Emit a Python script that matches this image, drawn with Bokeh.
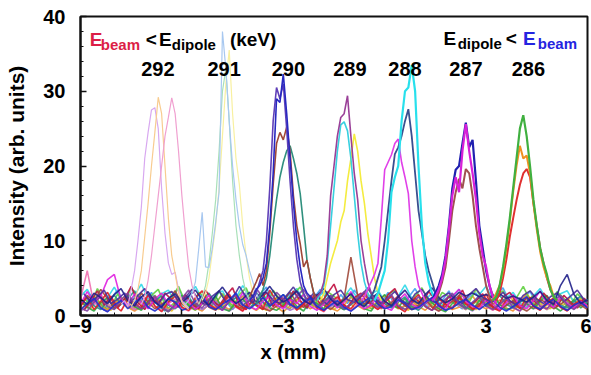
import numpy as np
from bokeh.plotting import figure
from bokeh.models import Label, FixedTicker, Range1d, Title
from bokeh.embed import file_html
from bokeh.resources import INLINE

FONT = "Liberation Sans"

# ---------------- data ----------------
X_MIN, X_MAX = -9.0, 6.0
Y_MIN, Y_MAX = 0.0, 40.0
X_TICKS = [-9, -6, -3, 0, 3, 6]
Y_TICKS = [0, 10, 20, 30, 40]

BASE_STEP = 0.2
PEAK_STEP = 0.1

# noisy background traces (sampled every 0.2 mm from their start x)
B_RED = [1.2,2.5,0.8,1.9,3.1,1.4,0.6,2.2,1.7,0.9,2.8,1.3,0.5,1.8,2.6,1.1,0.7,2.4,3.3,1.5,0.9,1.6,2.9,1.2,0.6,2.1,1.4,0.8,3.4,1.9,1.1,2.3,0.7,1.5,2.7,1.0,0.6,1.8,2.5,1.3,0.9,2.0,3.0,1.4,0.8,1.7,2.6,1.1,0.5,1.9,2.8,1.2,0.7,2.2,1.5,0.9,2.4,1.6,0.8,1.3,2.9,1.0,0.6,2.1,1.7,0.9,2.5,1.2,0.7,1.8,2.3,1.1,0.6,1.5,2.0,1.2]
B_GREEN = [2.0,1.1,0.6,1.7,2.4,0.9,1.5,2.8,1.2,0.7,1.9,2.3,1.0,0.5,1.6,2.7,1.3,0.8,2.0,1.4,2.6,0.9,0.6,1.8,2.2,1.1,1.7,2.9,1.0,0.7,1.4,2.5,1.2,0.6,2.0,1.6,0.9,2.7,1.3,0.8,1.5,2.1,0.9,0.6,1.9,2.8,1.4,1.0,2.3,0.8,1.2,2.6,1.7,0.9,0.5,1.6,2.4,1.1,0.7,2.0,1.3,2.9,1.5,0.8,1.1,2.2,1.6,0.9,1.9,2.7,1.2,0.6,1.4,2.1,1.0,1.8]
B_BLUE = [0.8,1.6,2.3,1.0,0.5,1.4,2.0,0.9,1.7,2.5,1.1,0.6,1.3,2.2,1.8,0.7,1.0,1.9,2.6,1.2,0.8,1.5,2.1,3.0,1.4,0.9,1.6,2.4,1.3,2.0,2.8,1.5,1.0,1.8,2.3,1.2,0.7,1.4,2.0,1.1,0.6,1.3,1.9,2.6,1.5,0.9,1.2,2.1,1.6,0.8,1.1,1.8,2.4,1.3,0.7,1.0,1.7,2.2,1.4,0.8,1.5,2.0,1.1,0.6,1.2,1.9,2.5,1.3,0.8,1.6,2.2,1.2,0.7,1.4,1.8,1.0]
B_MAGENTA = [1.5,3.2,1.8,2.6,4.8,5.5,2.1,1.4,2.9,1.7,0.9,2.2,3.0,1.5,1.0,2.4,1.8,0.8,1.6,2.7,1.3,0.7,2.0,1.5,3.1,1.2,0.8,1.9,2.6,1.4,0.9,2.1,1.6,2.8,1.2,0.7,1.5,2.3,1.0,1.8,3.2,1.6,0.9,1.4,2.5,1.1,0.7,2.0,2.9,1.5,1.0,1.7,2.4,1.2,0.8,2.6,3.5,1.9,1.2,0.9,2.1,1.5,0.8,1.7,2.8,1.3,0.9,2.0,3.3,1.6,1.1,2.4,1.7,1.0,1.9,1.3]
B_CYAN = [2.6,3.5,1.9,1.2,2.4,3.8,2.1,1.4,2.7,4.2,2.3,1.6,2.9,3.4,1.8,1.1,2.5,3.9,2.2,1.5,2.8,3.3,1.7,2.4,4.0,2.6,1.3,2.0,3.1,1.9,1.2,2.7,3.6,2.0,1.4,2.3,3.2,1.8,1.1,2.5,3.7,2.2,1.5,2.9,3.4,1.9,1.3,2.6,4.1,2.3,1.6,2.1,3.0,1.8,1.2,2.4,3.5,2.0,1.4,2.8,3.9,2.2,1.5,2.3,3.1,1.7,1.1,2.6,3.6,2.1,1.5,2.9,3.3,1.8,1.3,2.2]
B_PURPLE = [1.0,0.6,1.8,2.5,1.2,0.8,2.1,3.0,1.5,0.9,1.7,2.6,1.1,0.5,1.4,2.3,3.4,1.6,1.0,2.2,1.3,0.7,1.9,2.8,1.4,2.0,3.6,2.4,1.5,3.1,2.2,1.3,2.6,3.5,2.0,1.2,1.8,2.7,1.6,0.9,1.5,2.4,3.2,1.7,1.1,1.9,2.8,1.3,0.8,1.6,2.5,1.2,0.7,1.4,2.2,3.0,1.6,1.0,1.8,2.6,1.3,0.8,1.5,2.3,1.1,0.6,1.7,2.4,1.2,0.9,2.0,2.7,1.4,0.8,1.6,1.1]
B_NAVY = [2.2,1.5,3.0,2.4,1.6,2.8,3.6,2.0,1.3,2.5,3.2,1.8,1.1,2.3,2.9,1.7,2.6,3.4,2.1,1.4,2.7,3.8,2.5,1.6,2.2,3.1,1.9,2.8,3.9,2.6,1.8,2.4,3.3,2.0,1.5,2.7,3.6,2.2,1.4,2.1,2.9,1.7,1.2,2.3,3.0,1.9,1.3,2.5,3.4,2.1,1.6,2.8,3.7,2.4,1.7,2.2,3.1,2.6,3.0,2.5,2.8,2.4,2.9,2.3,2.6,2.2,1.8,2.5,3.2,2.0,1.5,4.0,5.5,2.8,1.6,2.1]
B_BROWN = [1.3,2.7,1.9,3.5,2.2,1.0,1.6,2.4,1.2,3.0,1.8,0.9,1.5,2.1,3.3,1.6,0.8,1.4,2.5,1.1,0.7,1.8,2.6,1.3,0.9,1.5,2.2,1.0,0.6,1.3,2.0,3.1,1.7,1.1,1.9,2.8,1.4,0.8,1.6,2.3,7.8,2.7,1.5,2.4,1.9,1.0,1.7,2.6,1.3,0.8,1.4,2.2,1.1,0.6,1.2,1.9,2.7,1.5,0.9,1.6,2.3,1.2,0.7,1.4,2.0,1.1,0.6,1.3,2.1,1.7,0.9,1.5,2.2,1.0,1.4,0.8]
B_ORANGE = [0.9,1.4,2.0,1.2,0.7,1.6,2.3,1.1,0.6,1.3,1.9,2.5,1.4,0.8,1.2,1.8,2.4,1.0,0.6,1.5,2.1,1.3,0.8,1.7,2.6,1.2,0.7,1.4,2.0,1.1,0.5,1.3,2.2,1.6,0.9,1.5,2.1,1.0,0.6,1.4,2.5,1.3,0.8,1.2,1.9,2.7,1.5,0.9,1.3,2.0,1.2,0.7,1.6,2.4,1.4,0.8,1.1,1.8,2.6,1.3,0.9,1.5,2.1,1.0,0.6,1.7,3.0,1.6,0.9,1.4,2.0,1.1,0.7,1.5,2.3,1.2]
B_TEAL = [1.7,2.4,1.3,0.8,1.9,2.7,1.5,2.2,3.3,1.8,1.1,2.0,2.6,1.4,0.9,1.7,2.5,1.2,2.1,3.0,1.6,1.0,1.8,2.4,1.3,2.2,3.1,1.7,1.2,2.0,2.8,1.5,0.9,1.6,2.3,1.1,1.9,2.6,1.4,0.8,1.5,2.2,1.3,2.0,2.9,1.6,1.0,1.8,2.5,1.2,0.7,1.6,2.3,1.4,2.1,2.8,1.5,0.9,1.7,2.4,1.2,1.9,2.7,1.5,1.0,1.8,2.3,1.3,0.8,1.6,2.2,1.4,1.0,1.9,2.6,1.5]
B_PINK = [2.2,6.0,1.4,2.8,1.6,0.9,2.3,1.5,0.8,1.9,2.6,1.2,0.7,1.6,2.2,1.0,0.6,1.4,2.0,1.3,0.8,1.7,2.4,1.1,0.6,1.5,2.1,1.2,0.7,1.8,2.5,1.3,0.8,1.4,2.0,1.0,0.5,1.6,2.3,1.2,0.7,1.5,2.2,1.4,0.9,1.3,1.9,2.6,1.5,0.9,1.2,1.8,1.1,0.6,1.4,2.1,1.3,0.8,1.6,2.4,1.2,0.7,1.3,1.9,1.0,0.6,1.5,2.2,1.3,0.8,1.7,2.5,1.4,0.9,1.6,1.1]
B_VIOLET = [0.6,1.2,1.8,1.0,0.5,1.3,2.0,1.4,0.8,1.1,1.7,2.3,1.2,0.7,1.0,1.6,2.2,1.3,0.8,1.4,1.9,1.1,0.6,1.2,1.8,2.4,1.5,0.9,1.3,2.0,1.2,0.7,1.1,1.7,2.5,1.4,0.8,1.2,1.9,1.0,0.6,1.3,2.1,1.5,0.9,1.1,1.8,2.3,1.3,0.8,1.0,1.6,2.2,1.4,0.7,1.2,1.9,1.1,0.6,1.4,2.0,1.2,0.8,1.3,1.8,2.4,1.4,0.9,1.1,1.7,2.1,1.2,0.7,1.3,1.9,1.0]
B_OLIVE = [1.9,1.0,2.6,1.5,0.8,1.7,2.4,1.3,0.9,2.0,1.4,2.7,1.6,1.0,1.8,2.3,1.2,0.7,1.5,2.2,1.6,2.9,1.7,1.1,1.9,2.5,1.3,0.8,1.6,2.4,1.4,0.9,2.1,2.8,1.5,1.0,1.7,2.3,1.2,0.8,1.6,2.6,1.5,0.9,1.4,2.0,1.2,2.5,1.6,1.0,1.8,2.4,1.3,0.9,1.7,2.2,1.4,0.8,1.5,2.1,1.3,0.9,1.6,2.4,1.5,1.0,1.9,2.7,1.4,0.8,1.5,2.2,1.2,0.9,1.7,1.3]
# second set, sampled between the first set's points (start at -8.9)
B_LIME = [2.4,1.3,3.6,2.0,1.1,2.9,1.6,3.8,2.2,1.0,2.7,3.5,1.4,2.3,3.9,1.8,1.2,3.1,2.4,1.5,3.3,2.0,1.1,2.8,3.7,1.6,2.5,1.2,3.4,2.1,1.3,2.9,3.8,1.7,2.4,1.0,3.2,2.6,1.5,3.0,2.2,1.4,3.6,2.3,1.2,2.8,3.4,1.9,1.1,2.6,3.7,2.0,1.4,3.1,2.5,1.3,2.9,1.8,3.5,2.2,1.2,2.7,3.3,1.6,2.4,3.9,2.0,1.3,2.8,1.7,3.2,2.3,1.4,2.9,2.0,1.6]
B_SKY = [1.1,2.8,1.9,0.7,2.3,3.4,1.5,0.9,2.6,1.7,3.1,1.2,0.6,2.4,3.6,1.8,1.0,2.9,2.1,1.3,3.3,1.9,0.8,2.2,3.0,1.4,2.7,3.8,1.6,1.1,2.5,3.2,1.8,0.9,2.3,3.5,2.0,1.2,2.8,1.6,3.4,2.2,1.0,2.6,1.7,3.1,1.4,0.8,2.4,3.6,1.9,1.1,2.7,2.0,3.3,1.5,0.9,2.5,3.0,1.7,1.2,2.8,3.7,1.8,1.0,2.3,3.2,1.6,2.6,1.3,2.9,1.9,0.9,2.4,1.5,2.1]
B_CRIMSON = [0.7,1.9,3.3,1.4,2.6,1.0,2.2,3.9,1.7,0.8,2.5,1.6,3.0,2.1,1.1,2.8,1.5,0.9,3.4,2.0,1.3,2.6,3.7,1.4,0.8,2.2,1.8,3.1,1.2,2.5,1.6,3.3,2.0,1.0,2.7,1.5,2.9,4.2,1.8,1.1,2.4,3.0,1.6,2.2,1.0,2.8,3.6,1.7,1.2,2.3,1.5,3.2,2.1,1.0,2.6,1.8,3.4,1.3,2.0,2.9,1.4,0.9,2.5,3.1,1.7,1.1,2.4,1.6,3.0,2.0,1.2,2.7,1.8,1.0,2.3,1.4]
B_INDIGO = [2.9,1.8,2.5,3.4,1.6,2.2,3.0,1.9,2.7,3.6,2.1,1.5,2.8,3.2,1.9,2.4,3.5,2.0,1.4,2.6,3.3,1.8,2.3,3.9,2.5,1.7,2.9,3.1,2.0,1.6,2.7,3.8,2.4,1.9,3.0,2.2,1.5,2.8,3.4,2.1,1.8,2.6,3.7,2.3,1.6,2.4,3.2,2.0,1.5,2.9,3.5,2.2,1.7,2.5,3.0,2.1,1.6,2.8,3.6,2.4,1.9,2.3,3.1,2.0,1.4,2.7,3.3,2.2,1.6,2.5,3.0,1.9,2.6,3.4,2.1,1.7]
B_GOLD = [1.6,0.9,2.1,1.4,0.7,1.8,2.5,1.2,0.8,1.9,1.3,2.4,1.0,0.6,1.7,2.2,1.1,1.5,2.8,1.3,0.8,1.6,2.3,1.0,1.4,2.6,1.2,0.7,1.9,1.5,2.7,1.1,0.9,2.0,1.4,2.5,1.2,0.8,1.6,2.2,1.0,1.8,2.9,1.3,0.9,1.5,2.1,1.1,0.7,1.7,2.4,1.4,0.9,1.3,2.0,1.6,2.8,1.2,0.8,1.5,2.2,1.1,1.7,2.6,1.3,0.8,1.6,2.3,1.2,0.9,1.8,1.4,2.5,1.1,1.6,1.0]

BACKGROUND = [
    # (start x, values, colour)
    (-8.9, B_GOLD, "#e8c020"), (-9.0, B_CYAN, "#30d8e8"), (-8.9, B_SKY, "#40a0f0"),
    (-9.0, B_OLIVE, "#88b030"), (-9.0, B_ORANGE, "#f09030"), (-8.9, B_LIME, "#60d040"),
    (-9.0, B_VIOLET, "#a070d0"), (-9.0, B_PINK, "#f070b0"), (-9.0, B_GREEN, "#30a840"),
    (-9.0, B_TEAL, "#2a9088"), (-8.9, B_CRIMSON, "#c01040"), (-9.0, B_BROWN, "#a04838"),
    (-9.0, B_RED, "#e01c24"), (-9.0, B_MAGENTA, "#e020e0"), (-8.9, B_INDIGO, "#4b2d9a"),
    (-9.0, B_PURPLE, "#8040a0"), (-9.0, B_BLUE, "#2030d0"), (-9.0, B_NAVY, "#20208a"),
]

# peak traces (sampled every 0.1 mm from their start x)
# 292 keV
P292_LAV_X0, P292_LAV = -7.8, [1.5,2.0,1.2,3.5,6.0,10.0,14.5,21.0,24.5,27.5,27.8,25.0,17.0,11.0,7.0,5.5,5.8,3.5,2.0,1.5,1.0]
P292_ORG_X0, P292_ORG = -7.5, [1.2,2.0,3.5,6.0,10.5,15.0,20.0,24.5,29.2,27.0,20.0,13.0,8.0,5.6,3.0,1.8,1.2,0.8]
P292_PNK_X0, P292_PNK = -7.2, [1.5,2.5,4.7,8.0,12.0,16.0,20.0,24.0,26.5,29.1,27.0,22.0,16.0,11.0,6.5,4.0,2.5,1.5]
# 291 keV
P291_BLU_X0, P291_BLU = -5.9, [1.5,2.0,3.0,4.5,9.0,13.8,6.5,6.4,9.0,12.5,16.5,38.0,33.0,26.0,20.0,15.5,12.0,9.5,8.0,6.0,4.5,3.0,2.0]
P291_YEL_X0, P291_YEL = -5.4, [2.0,3.0,5.0,8.5,12.0,17.0,24.0,31.0,35.5,27.0,21.0,17.5,12.0,8.0,5.0,3.0,2.0]
P291_GRN_X0, P291_GRN = -5.5, [1.5,2.5,4.0,7.0,11.0,15.5,22.0,30.0,33.0,26.0,18.0,12.0,8.0,5.0,3.0,2.0]
# 290 keV
P290_NAV_X0, P290_NAV = -4.0, [2.0,2.5,3.5,4.0,5.0,7.0,12.0,19.0,29.0,28.5,32.3,27.0,21.0,15.0,10.0,6.5,4.0,3.0,2.5,2.0]
P290_VIO_X0, P290_VIO = -3.9, [2.0,3.0,4.5,6.0,10.0,17.0,26.0,30.5,29.0,31.0,25.0,18.0,12.0,7.5,4.5,3.0,2.0]
P290_BRN_X0, P290_BRN = -4.0, [2.5,3.5,4.5,5.6,4.0,6.0,11.0,17.5,23.0,24.5,23.5,25.2,22.0,16.0,12.0,9.6,6.5,7.4,5.0,3.0,2.0]
P290_TEA_X0, P290_TEA = -3.8, [1.5,2.5,3.5,5.0,8.0,12.0,15.5,18.5,20.5,22.0,22.7,21.0,19.0,16.3,12.0,7.4,5.0,3.0,2.0]
# 289 keV
P289_MAU_X0, P289_MAU = -2.1, [2.0,2.5,3.0,4.5,8.0,16.0,20.0,24.0,26.5,27.0,29.4,24.0,19.0,15.5,10.0,7.0,4.5,3.0,2.0]
P289_CYA_X0, P289_CYA = -2.0, [2.0,3.0,4.0,7.0,12.0,17.0,22.0,25.5,25.9,24.7,21.0,16.0,11.0,7.0,4.5,3.0,2.0]
P289_YEL_X0, P289_YEL = -1.9, [2.0,3.0,5.0,7.0,8.5,10.0,12.5,14.0,18.0,21.0,24.3,22.0,18.0,15.0,11.0,8.0,5.0,3.0,2.0]
# 288 keV
P288_MAG_X0, P288_MAG = -0.7, [2.0,2.5,3.5,4.5,5.5,7.0,13.0,19.5,20.5,21.5,23.0,23.6,20.5,18.5,16.3,10.0,6.5,4.0,3.0,2.0]
P288_SLT_X0, P288_SLT = -0.5, [2.0,2.5,3.5,5.0,6.5,10.0,14.0,18.0,21.6,22.5,24.0,26.0,27.6,24.0,19.0,14.0,11.0,8.0,6.0,4.5,3.0,2.0]
P288_CYA_X0, P288_CYA = -0.3, [2.0,3.0,4.5,6.0,10.0,16.5,18.5,20.0,26.0,30.0,30.5,33.5,30.0,20.0,12.0,7.0,4.5,3.0,2.0]
# 287 keV
P287_MAG_X0, P287_MAG = 1.4, [2.0,2.5,3.5,5.0,7.5,11.5,16.0,18.5,16.5,22.0,25.6,22.0,19.0,15.5,11.0,8.0,6.5,4.0,2.5,1.5]
P287_NAV_X0, P287_NAV = 1.4, [2.0,3.0,4.0,5.5,8.0,12.0,17.0,19.5,20.0,23.0,25.8,22.5,23.5,18.0,12.0,9.0,6.0,4.0,2.5,2.0]
P287_BRN_X0, P287_BRN = 1.5, [2.0,3.0,4.5,6.5,10.0,14.0,16.5,18.3,17.0,19.6,19.0,16.0,12.0,9.0,6.5,4.0,2.5,1.5]
# 286 keV
P286_GRN_X0, P286_GRN = 3.2, [2.0,2.5,4.0,6.5,9.5,13.0,17.0,21.0,25.0,26.8,24.0,20.0,15.5,12.0,9.0,7.0,5.5,3.5,2.5,2.0]
P286_ORG_X0, P286_ORG = 3.2, [2.0,3.0,4.0,6.0,9.0,12.5,16.5,20.0,22.7,21.0,21.4,19.0,15.0,11.5,8.5,6.5,5.0,4.0,2.5,2.0]
P286_RED_X0, P286_RED = 3.3, [2.0,3.0,5.0,7.5,10.5,13.0,15.4,17.5,19.0,19.6,18.5,15.0,12.0,9.0,7.0,5.0,3.5,2.5,2.0]

PEAKS = [
    # (start x, values, colour, line width)
    (P292_LAV_X0, P292_LAV, "#d8a8f0", 1.2),
    (P292_ORG_X0, P292_ORG, "#f8cc90", 1.2),
    (P292_PNK_X0, P292_PNK, "#f0a0d0", 1.2),
    (P291_GRN_X0, P291_GRN, "#a8e0b8", 1.2),
    (P291_YEL_X0, P291_YEL, "#f8f0a0", 1.2),
    (P291_BLU_X0, P291_BLU, "#a8c8f0", 1.2),
    (P290_TEA_X0, P290_TEA, "#30907e", 1.6),
    (P290_BRN_X0, P290_BRN, "#a04838", 1.6),
    (P290_VIO_X0, P290_VIO, "#6040b8", 1.6),
    (P290_NAV_X0, P290_NAV, "#2828c0", 1.6),
    (P289_YEL_X0, P289_YEL, "#f4ec40", 1.6),
    (P289_CYA_X0, P289_CYA, "#38d0e0", 1.6),
    (P289_MAU_X0, P289_MAU, "#9a4098", 1.6),
    (P288_MAG_X0, P288_MAG, "#e040e8", 1.6),
    (P288_SLT_X0, P288_SLT, "#3a5090", 1.8),
    (P288_CYA_X0, P288_CYA, "#28e0ec", 2.2),
    (P287_BRN_X0, P287_BRN, "#a05050", 2.0),
    (P287_NAV_X0, P287_NAV, "#2020b0", 2.2),
    (P287_MAG_X0, P287_MAG, "#d820d8", 2.2),
    (P286_RED_X0, P286_RED, "#e03030", 2.0),
    (P286_ORG_X0, P286_ORG, "#f09020", 2.0),
    (P286_GRN_X0, P286_GRN, "#40b040", 2.2),
]

ENERGY_LABELS = ["292", "291", "290", "289", "288", "287", "286"]
ENERGY_LABEL_X = [-6.71, -4.75, -2.85, -1.03, 0.60, 2.40, 4.25]

# ---------------- figure ----------------
p = figure(width=591, height=375, output_backend="svg", toolbar_location=None,
           x_range=Range1d(X_MIN, X_MAX), y_range=Range1d(Y_MIN, Y_MAX),
           min_border_left=80, min_border_right=4, min_border_top=16, min_border_bottom=60)
p.background_fill_color = "white"
p.border_fill_color = "white"
p.grid.visible = False
p.outline_line_color = "#111111"
p.outline_line_width = 2

for x0, ys, col in BACKGROUND:
    xs = x0 + BASE_STEP * np.arange(len(ys))
    p.line(xs, ys, line_color=col, line_width=1.6, line_alpha=0.9)

for x0, ys, col, lw in PEAKS:
    xs = x0 + PEAK_STEP * np.arange(len(ys))
    p.line(xs, ys, line_color=col, line_width=lw)

for ax in (p.xaxis[0], p.yaxis[0]):
    ax.axis_line_width = 2
    ax.axis_line_color = "#111111"
    ax.major_tick_in = 6
    ax.major_tick_out = 0
    ax.minor_tick_in = 3
    ax.minor_tick_out = 0
    ax.major_tick_line_width = 1.5
    ax.major_tick_line_color = "#111111"
    ax.minor_tick_line_color = "#111111"
    ax.major_label_text_font = FONT
    ax.major_label_text_font_style = "bold"
    ax.major_label_text_font_size = "20px"
    ax.major_label_text_color = "black"

p.xaxis[0].ticker = FixedTicker(ticks=X_TICKS, minor_ticks=[-9 + 0.5 * i for i in range(31)])
p.yaxis[0].ticker = FixedTicker(ticks=Y_TICKS, minor_ticks=[2 * i for i in range(21)])
p.xaxis[0].major_label_standoff = 3
p.yaxis[0].major_label_standoff = 15

# y axis title
p.yaxis[0].axis_label = "Intensity (arb. units)"
p.yaxis[0].axis_label_text_font = FONT
p.yaxis[0].axis_label_text_font_style = "bold"
p.yaxis[0].axis_label_text_font_size = "21px"
p.yaxis[0].axis_label_text_color = "black"
p.yaxis[0].axis_label_standoff = 12

# x axis title (centred on the whole picture, not on the frame)
p.add_layout(Title(text="x (mm)", align="left", offset=180, text_font=FONT,
                   text_font_style="bold", text_font_size="20px", text_color="black",
                   standoff=7), "below")

RED = "#dc1e46"
BLUE = "#2424e0"


def txt(x, y, s, size, color="black"):
    p.add_layout(Label(x=x, y=y, text=s, text_font=FONT, text_font_style="bold",
                       text_font_size=size, text_color=color, text_align="left",
                       text_baseline="alphabetic"))


# left header: E_beam < E_dipole (keV)
txt(-8.73, 36.9, "E", "19px", RED)
txt(-8.40, 36.3, "beam", "15px", RED)
txt(-7.07, 36.9, "<", "19px")
txt(-6.68, 36.9, "E", "19px")
txt(-6.30, 36.3, "dipole", "15px")
txt(-4.58, 36.9, "(keV)", "19px")

# right header: E_dipole < E_beam
txt(1.74, 37.0, "E", "19px")
txt(2.16, 36.4, "dipole", "15px")
txt(3.58, 37.0, "<", "19px")
txt(4.09, 37.0, "E", "19px", BLUE)
txt(4.53, 36.4, "beam", "15px", BLUE)

for s, x in zip(ENERGY_LABELS, ENERGY_LABEL_X):
    p.add_layout(Label(x=x, y=33.0, text=s, text_font=FONT, text_font_style="bold",
                       text_font_size="20px", text_color="black", text_align="center",
                       text_baseline="alphabetic"))

open("out.html", "w").write(file_html(p, INLINE))
